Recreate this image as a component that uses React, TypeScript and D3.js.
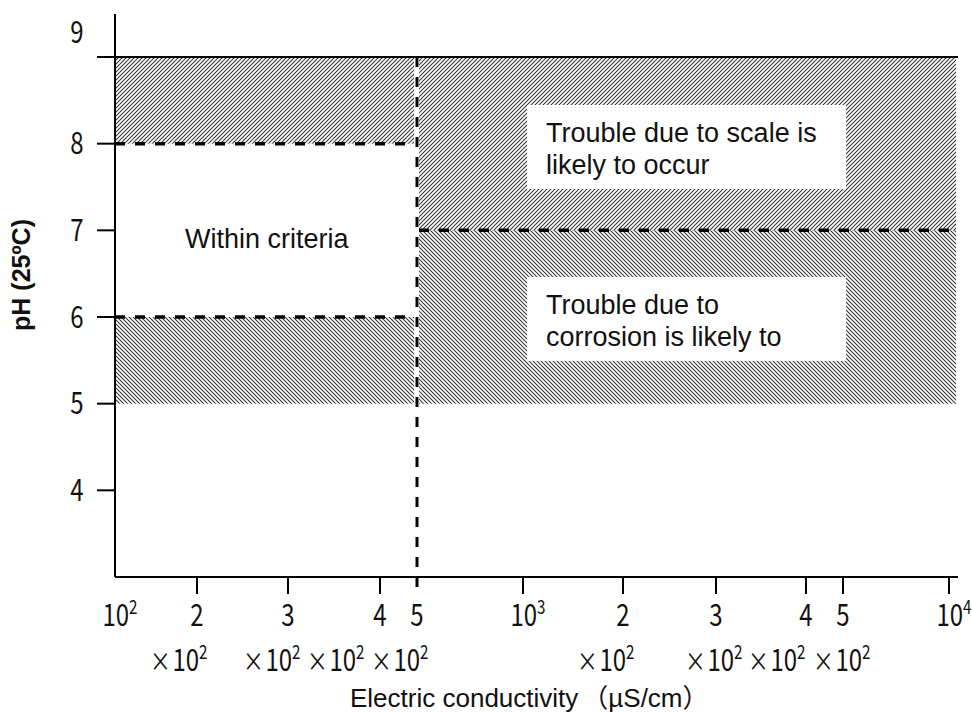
import * as d3 from 'd3'

// pH criteria for cooling water vs conductivity
const phTicks = [4, 5, 6, 7, 8, 9]
const condTicks = [100, 200, 300, 400, 500, 1000, 2000, 3000, 4000, 5000, 10000]
const condTickMain = ['10', '2', '3', '4', '5', '10', '2', '3', '4', '5', '10']
const condTickSup = ['2', '', '', '', '', '3', '', '', '', '', '4']
// the axis on the original is drawn by hand, so tick spacing is not a true log scale
const condTickPx = [115, 197, 288, 380, 417, 523, 623, 716, 806, 843, 949]

// "×10²" multipliers written under the mantissa ticks
const multTicks = [200, 300, 400, 500, 2000, 3000, 4000, 5000]
const multOffset = [-47, -45, -73, -46, -46, -31, -58, -30]

// hatched zones: conductivity range, pH range, kind
const zones = [
  { c0: 100, c1: 500, p0: 8, p1: 9, kind: 'scale' },
  { c0: 100, c1: 500, p0: 5, p1: 6, kind: 'corr' },
  { c0: 500, c1: 10000, p0: 7, p1: 9, kind: 'scale' },
  { c0: 500, c1: 10000, p0: 5, p1: 7, kind: 'corr' },
]

// dashed criteria boundaries
const limits = [
  { c0: 100, c1: 500, ph: 8 },
  { c0: 100, c1: 500, ph: 6 },
  { c0: 500, c1: 10000, ph: 7 },
]
const condLimit = 500

const W = 972
const H = 713
const left = 115
const bottom = 577
const rightPad = 7
const squeeze = 0.8 // tick labels use a condensed gothic face

export default function App() {
  const x = d3.scaleLog().domain(condTicks).range(condTickPx)
  const y = d3.scaleLinear().domain([3, 9]).range([bottom, 57])
  const xRight = x(10000) + rightPad
  const xEdge = (c: number, side: 'l' | 'r') => {
    if (c === 10000) return xRight
    if (c === condLimit) return side === 'l' ? x(c) - 3 : x(c) + 2
    return x(c)
  }

  const tickFont = '"Noto Sans CJK JP", sans-serif'
  const textFont = '"Liberation Sans", Arial, sans-serif'
  const cjkFont = '"Noto Sans CJK JP", sans-serif'
  const at = (px: number, py: number) => `translate(${px},${py}) scale(${squeeze},1)`

  return (
    <svg width={W} height={H} style={{ position: 'absolute', left: 0, top: 0, background: '#fff' }}>
      <defs>
        <pattern id="hatchUp" width={4} height={4} patternUnits="userSpaceOnUse">
          <path d="M0,4 L4,0 M-1,1 L1,-1 M3,5 L5,3" stroke="#333" strokeWidth={1.05} />
        </pattern>
        <pattern id="hatchDown" width={4} height={4} patternUnits="userSpaceOnUse">
          <path d="M0,0 L4,4 M-1,3 L1,5 M3,-1 L5,1" stroke="#333" strokeWidth={1.05} />
        </pattern>
      </defs>

      {zones.map((z, i) => (
        <rect
          key={i}
          x={xEdge(z.c0, 'r')}
          y={y(z.p1)}
          width={xEdge(z.c1, 'l') - xEdge(z.c0, 'r')}
          height={y(z.p0) - y(z.p1)}
          fill={z.kind === 'scale' ? 'url(#hatchUp)' : 'url(#hatchDown)'}
        />
      ))}

      {/* top limit */}
      <line x1={left} x2={xRight + 2} y1={y(9)} y2={y(9)} stroke="#000" strokeWidth={2} />

      {limits.map((l, i) => (
        <line
          key={i}
          x1={l.c0 === 100 ? left : xEdge(l.c0, 'r')}
          x2={l.c1 === 10000 ? xRight + 2 : xEdge(l.c1, 'l')}
          y1={y(l.ph)}
          y2={y(l.ph)}
          stroke="#000"
          strokeWidth={3.5}
          strokeDasharray="10,10"
        />
      ))}
      <line
        x1={x(condLimit)}
        x2={x(condLimit)}
        y1={y(9)}
        y2={bottom + 20}
        stroke="#000"
        strokeWidth={3}
        strokeDasharray="10,10"
      />

      {/* annotation boxes */}
      <rect x={527} y={105} width={319} height={84} fill="#fff" />
      <rect x={527} y={277} width={319} height={84} fill="#fff" />
      <g fontFamily={textFont} fontSize={27} fill="#111">
        <text x={185} y={248}>Within criteria</text>
        <text x={546} y={142}>Trouble due to scale is</text>
        <text x={546} y={174}>likely to occur</text>
        <text x={546} y={314}>Trouble due to</text>
        <text x={546} y={346}>corrosion is likely to</text>
      </g>

      {/* axes */}
      <line x1={left} x2={left} y1={14} y2={bottom} stroke="#000" strokeWidth={2} />
      <line x1={left} x2={xRight + 2} y1={bottom} y2={bottom} stroke="#000" strokeWidth={2} />
      {phTicks.map(t => (
        <g key={t}>
          <line x1={left - 18} x2={left} y1={y(t)} y2={y(t)} stroke="#000" strokeWidth={2} />
          <text
            transform={at(77, y(t) + (t === 9 ? -25 : 0))}
            dy="0.36em"
            textAnchor="middle"
            fontFamily={tickFont}
            fontSize={30}
            fill="#111"
          >
            {t}
          </text>
        </g>
      ))}
      {condTicks.map((c, i) => (
        <g key={c}>
          {c !== 100 && c !== condLimit && (
            <line x1={x(c)} x2={x(c)} y1={bottom} y2={bottom + 17} stroke="#000" strokeWidth={2} />
          )}
          <text
            transform={at(x(c) + (condTickSup[i] ? 5 : 0), 626)}
            textAnchor="middle"
            fontFamily={tickFont}
            fontSize={30}
            fill="#111"
          >
            {condTickMain[i]}
            {condTickSup[i] && (
              <tspan fontSize={19} dy={-12}>
                {condTickSup[i]}
              </tspan>
            )}
          </text>
        </g>
      ))}
      {multTicks.map((c, i) => (
        <text key={c} transform={at(x(c) + multOffset[i], 671)} fontFamily={tickFont} fontSize={30} fill="#111">
          <tspan fontSize={26}>×</tspan>
          <tspan dx={2}>10</tspan>
          <tspan fontSize={19} dy={-12}>
            2
          </tspan>
        </text>
      ))}

      <text x={350} y={707} fontFamily={textFont} fontSize={26} fill="#111">
        Electric conductivity
        <tspan fontFamily={cjkFont} dx={4}>（</tspan>
        <tspan>µS/cm</tspan>
        <tspan fontFamily={cjkFont}>）</tspan>
      </text>
      <text
        transform="translate(30,275) rotate(-90)"
        textAnchor="middle"
        fontFamily={textFont}
        fontSize={25}
        fontWeight="bold"
        fill="#111"
      >
        pH (25ºC)
      </text>
    </svg>
  )
}
